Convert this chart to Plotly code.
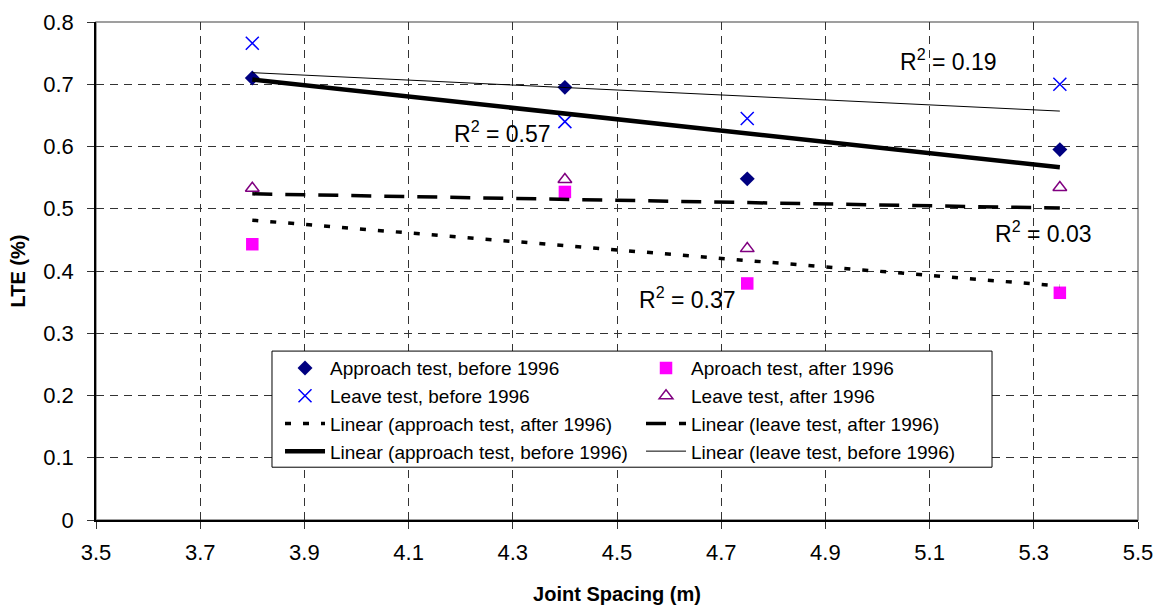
import numpy as np
import plotly.graph_objects as go

# Data
joint_spacing = [3.8, 4.4, 4.75, 5.35]
approach_before = [0.710, 0.695, 0.548, 0.595]
approach_after = [0.443, 0.527, 0.380, 0.365]
leave_before = [0.766, 0.640, 0.645, 0.700]
leave_after = [0.533, 0.547, 0.436, 0.534]

x_ticks = [3.5, 3.7, 3.9, 4.1, 4.3, 4.5, 4.7, 4.9, 5.1, 5.3, 5.5]
r2_labels = ["R<sup>2</sup> = 0.19", "R<sup>2</sup> = 0.57", "R<sup>2</sup> = 0.03", "R<sup>2</sup> = 0.37"]
r2_x = [5.137, 4.281, 5.318, 4.635]
r2_y = [0.739, 0.624, 0.463, 0.357]

FONT = "Liberation Sans, Arial, sans-serif"


def trend(xs, ys):
    xs = np.array(xs, dtype=float)
    ys = np.array(ys, dtype=float)
    m, b = np.polyfit(xs, ys, 1)
    xe = np.array([xs.min(), xs.max()])
    return xe, m * xe + b


fig = go.Figure()

# Markers (legend rows 1-2)
fig.add_trace(go.Scatter(x=joint_spacing, y=approach_before, mode="markers",
                         name="Approach test, before 1996",
                         marker=dict(symbol="diamond", color="#000080", size=11.5)))
fig.add_trace(go.Scatter(x=joint_spacing, y=approach_after, mode="markers",
                         name="Aproach test, after 1996",
                         marker=dict(symbol="square", color="#FF00FF", size=12.5)))
fig.add_trace(go.Scatter(x=joint_spacing, y=leave_before, mode="markers",
                         name="Leave test, before 1996",
                         marker=dict(symbol="x-thin-open", color="#0000FF", size=13,
                                     line=dict(color="#0000FF", width=1.5))))
fig.add_trace(go.Scatter(x=joint_spacing, y=leave_after, mode="markers",
                         name="Leave test, after 1996",
                         marker=dict(symbol="triangle-up-open", color="#800080", size=12,
                                     line=dict(color="#800080", width=1.5))))

# Linear trendlines (legend rows 3-4)
tx, ty = trend(joint_spacing, approach_after)
fig.add_trace(go.Scatter(x=tx, y=ty, mode="lines",
                         name="Linear (approach test, after 1996)",
                         line=dict(color="black", width=3.5, dash="6px,12px")))
tx, ty = trend(joint_spacing, leave_after)
fig.add_trace(go.Scatter(x=tx, y=ty, mode="lines",
                         name="Linear (leave test, after 1996)",
                         line=dict(color="black", width=3.5, dash="20px,13px")))
tx, ty = trend(joint_spacing, approach_before)
fig.add_trace(go.Scatter(x=tx, y=ty, mode="lines",
                         name="Linear (approach test, before 1996)",
                         line=dict(color="black", width=4.5)))
tx, ty = trend(joint_spacing, leave_before)
fig.add_trace(go.Scatter(x=tx, y=ty, mode="lines",
                         name="Linear (leave test, before 1996)",
                         line=dict(color="black", width=1)))

for txt, ax_, ay_ in zip(r2_labels, r2_x, r2_y):
    fig.add_annotation(x=ax_, y=ay_, text=txt, showarrow=False,
                       font=dict(family=FONT, size=23, color="black"))

# Plot-area border (gray, Excel style)
fig.add_shape(type="rect", xref="paper", yref="paper", x0=0, y0=0, x1=1, y1=1,
              line=dict(color="#808080", width=1.5), layer="below")
# Legend box (white with black border), drawn above the grid
fig.add_shape(type="rect", xref="paper", yref="paper",
              x0=0.1689, x1=0.8599, y0=0.106, y1=0.3392,
              line=dict(color="black", width=1), fillcolor="white", layer="above")

fig.update_layout(
    width=1158, height=605,
    margin=dict(l=96, r=20, t=22, b=85, autoexpand=False),
    paper_bgcolor="white", plot_bgcolor="white",
    font=dict(family=FONT, color="black", size=22),
    showlegend=True,
    legend=dict(orientation="h", x=0.1766, y=0.343, xanchor="left", yanchor="top",
                entrywidth=306, entrywidthmode="pixels",
                bgcolor="rgba(0,0,0,0)", borderwidth=0,
                font=dict(family=FONT, size=19, color="black"),
                traceorder="normal", itemwidth=40),
    xaxis=dict(range=[3.5, 5.5], tickmode="array", tickvals=x_ticks,
               ticktext=[f"{v:.1f}" for v in x_ticks],
               showgrid=True, gridcolor="#333333", griddash="8px,6px", gridwidth=1,
               showline=True, linecolor="black", linewidth=1.5,
               ticks="outside", ticklen=7, tickcolor="#333333",
               ticklabelstandoff=5, automargin=False,
               zeroline=False,
               title=dict(text="<b>Joint Spacing (m)</b>", font=dict(size=20), standoff=25),
               tickfont=dict(size=22)),
    yaxis=dict(range=[0, 0.8], tick0=0, dtick=0.1,
               showgrid=True, gridcolor="#333333", griddash="8px,6px", gridwidth=1,
               showline=True, linecolor="black", linewidth=1.5,
               ticks="outside", ticklen=7, tickcolor="#333333",
               ticklabelstandoff=9, automargin=False,
               zeroline=False,
               title=dict(text="<b>LTE (%)</b>", font=dict(size=20), standoff=12),
               tickfont=dict(size=22)),
)

fig.write_html("out.html", config={"displayModeBar": False},
               post_script="document.body.style.margin='0';document.body.style.overflow='hidden';")
